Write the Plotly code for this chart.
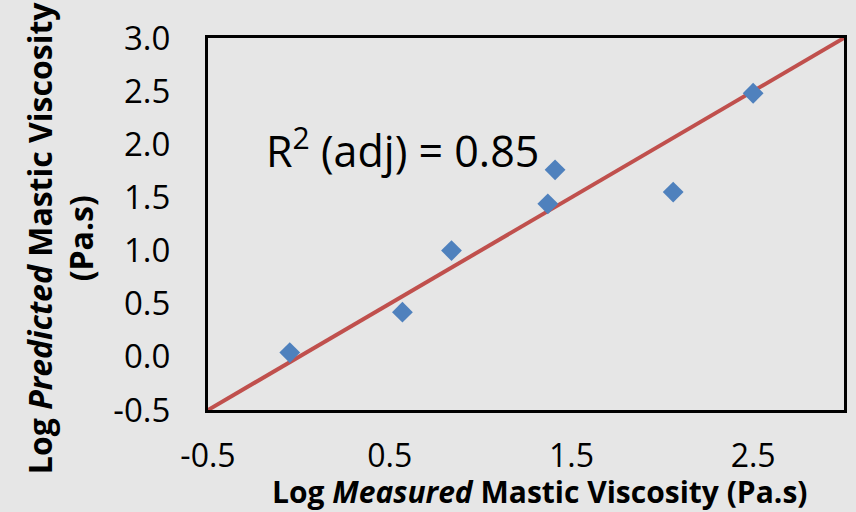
import plotly.graph_objects as go

# measured vs predicted (log Pa.s)
log_measured = [-0.05, 0.57, 0.84, 1.37, 1.41, 2.06, 2.50]
log_predicted = [0.04, 0.42, 1.00, 1.44, 1.76, 1.55, 2.48]

# line of equality
line_x = [-0.5, 3.0]
line_y = [-0.5, 3.0]

x_ticks = [-0.5, 0.5, 1.5, 2.5]
x_tick_labels = ["-0.5", "0.5", "1.5", "2.5"]
y_ticks = [-0.5, 0.0, 0.5, 1.0, 1.5, 2.0, 2.5, 3.0]
y_tick_labels = ["-0.5", "0.0", "0.5", "1.0", "1.5", "2.0", "2.5", "3.0"]

r2_text = "R<sup>2</sup> (adj) = 0.85"
x_title = "<b>Log <i>Measured</i> Mastic Viscosity (Pa.s)</b>"
y_title = "<b>Log <i>Predicted</i> Mastic Viscosity<br>(Pa.s)</b>"

bg = "#e6e6e6"
font_family = "Open Sans, Liberation Sans, sans-serif"

fig = go.Figure()

fig.add_trace(go.Scatter(
    x=line_x, y=line_y, mode="lines",
    line=dict(color="#c0504d", width=4),
    showlegend=False, hoverinfo="skip"
))

fig.add_trace(go.Scatter(
    x=log_measured, y=log_predicted, mode="markers",
    marker=dict(symbol="diamond", size=16, color="#4f81bd"),
    showlegend=False
))

fig.add_annotation(
    x=-0.19, y=1.965, xref="x", yref="y",
    text=r2_text, showarrow=False, xanchor="left", yanchor="middle",
    font=dict(size=43, color="black", family=font_family)
)

# axis titles as annotations so they can be placed exactly
fig.add_annotation(
    x=0.521, y=-0.218, xref="paper", yref="paper",
    text=x_title, showarrow=False, xanchor="center", yanchor="middle",
    font=dict(size=30, color="black", family=font_family)
)
fig.add_annotation(
    x=0, y=0.462, xref="paper", yref="paper", xshift=-148,
    text=y_title, showarrow=False, textangle=-90,
    xanchor="center", yanchor="middle",
    font=dict(size=32, color="black", family=font_family)
)

fig.update_xaxes(
    range=[-0.5, 3.0], tickvals=x_ticks, ticktext=x_tick_labels,
    showgrid=False, zeroline=False,
    showline=True, linecolor="black", linewidth=3, mirror=True,
    ticks="outside", ticklen=16, tickcolor=bg,
    tickfont=dict(size=32, color="black", family=font_family)
)

fig.update_yaxes(
    range=[-0.5, 3.0], tickvals=y_ticks, ticktext=y_tick_labels,
    showgrid=False, zeroline=False,
    showline=True, linecolor="black", linewidth=3, mirror=True,
    ticks="outside", ticklen=28, tickcolor=bg,
    tickfont=dict(size=33, color="black", family=font_family)
)

fig.update_layout(
    width=856, height=512,
    margin=dict(l=208, r=9, t=38, b=102),
    paper_bgcolor=bg, plot_bgcolor=bg,
    font=dict(family=font_family, color="black")
)

fig.write_html("out.html", config={"displayModeBar": False},
               post_script="document.body.style.margin='0';")
